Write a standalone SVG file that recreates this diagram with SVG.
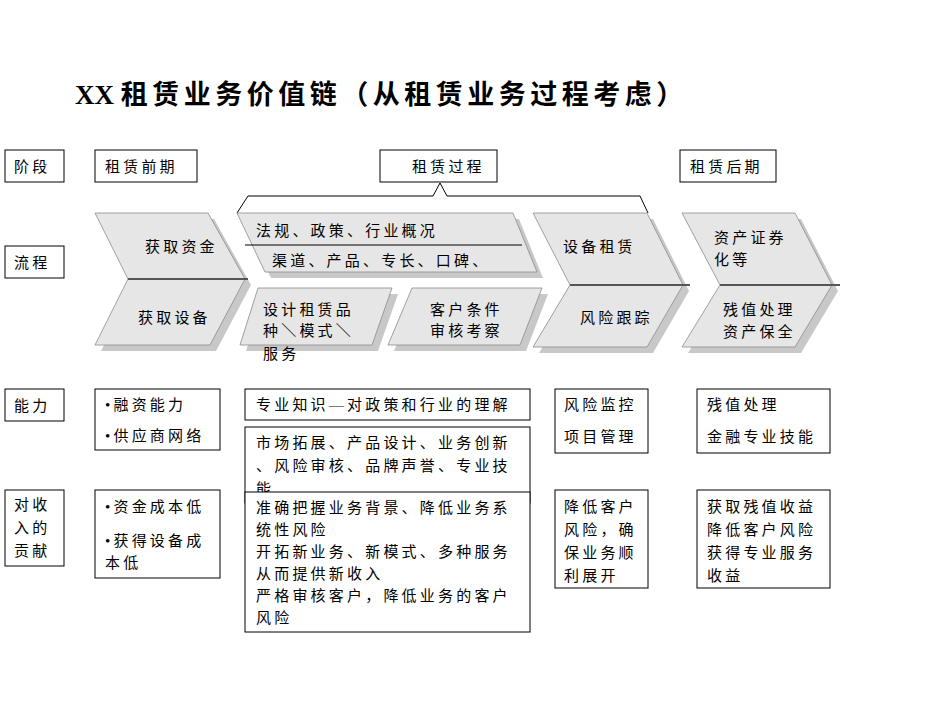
<svg xmlns="http://www.w3.org/2000/svg" width="950" height="713" viewBox="0 0 950 713">
<style>
text{font-family:"Liberation Serif","Noto Sans CJK SC",serif;font-size:15px;fill:#000;letter-spacing:3.2px}
.t{font-size:27px;font-weight:bold;letter-spacing:4.5px}
.box{fill:#fff;stroke:#000;stroke-width:1}
.sh{fill:#c8c8c8}
.sp{fill:#e6e6e6;stroke:#8c8c8c;stroke-width:0.8}
.ln{stroke:#555;stroke-width:2}
</style>
<rect width="950" height="713" fill="#fff"/>
<text class="t" x="75" y="104"><tspan style="letter-spacing:0">XX </tspan>租赁业务价值链（从租赁业务过程考虑）</text>

<g id="labels">
<rect class="box" x="5" y="150" width="59" height="32"/><text x="14" y="172">阶段</text>
<rect class="box" x="5" y="246" width="59" height="32"/><text x="14" y="268">流程</text>
<rect class="box" x="5" y="389" width="59" height="32"/><text x="14" y="411">能力</text>
<rect class="box" x="5" y="490" width="59" height="76"/>
<text x="14" y="510">对收</text><text x="14" y="533">入的</text><text x="14" y="556">贡献</text>
</g>

<g id="stages">
<rect class="box" x="95" y="150" width="102" height="32"/><text x="105" y="172">租赁前期</text>
<rect class="box" x="380" y="150" width="117" height="32"/><text x="412" y="172">租赁过程</text>
<rect class="box" x="680" y="150" width="96" height="32"/><text x="690" y="172">租赁后期</text>
</g>

<g id="connectors">
<path d="M237,213 L248,196 L433,196 L440,183 L447,196 L640,196 L648,213" fill="none" stroke="#000" stroke-width="1"/>
</g>

<g id="chev1">
<path class="sh" d="M101,219 L214,219 L251,285 L216,351 L101,351 L134,285 Z"/>
<path class="sp" d="M95,213 L208,213 L245,279 L210,345 L95,345 L128,279 Z"/>
<line class="ln" x1="128" y1="279" x2="248" y2="279"/>
<text x="145" y="252">获取资金</text>
<text x="138" y="323">获取设备</text>
</g>

<g id="proc1">
<path class="sh" d="M243,219 L519,219 L543,278 L271,278 Z"/>
<path class="sp" d="M237,213 L513,213 L537,272 L265,272 Z"/>
<line x1="245" y1="245" x2="522" y2="245" stroke="#000" stroke-width="1"/>
<text x="256" y="236">法规、政策、行业概况</text>
<text x="272" y="266">渠道、产品、专长、口碑、</text>
</g>

<g id="proc2">
<path class="sh" d="M264,294 L398,294 L378,351 L246,351 Z"/>
<path class="sp" d="M258,288 L392,288 L372,345 L240,345 Z"/>
<text x="263" y="315">设计租赁品</text>
<text x="263" y="336">种＼模式＼</text>
<text x="263" y="359">服务</text>
</g>

<g id="proc3">
<path class="sh" d="M418,294 L548,294 L526,351 L394,351 Z"/>
<path class="sp" d="M412,288 L542,288 L520,345 L388,345 Z"/>
<text x="430" y="315">客户条件</text>
<text x="430" y="336">审核考察</text>
</g>

<g id="chev3">
<path class="sh" d="M539,219 L653,219 L689,291 L653,353 L539,353 L576,291 Z"/>
<path class="sp" d="M533,213 L647,213 L683,285 L647,347 L533,347 L570,285 Z"/>
<line class="ln" x1="570" y1="285" x2="690" y2="285"/>
<text x="563" y="252">设备租赁</text>
<text x="580" y="323">风险跟踪</text>
</g>

<g id="chev4">
<path class="sh" d="M688,219 L801,219 L838,291 L801,353 L688,353 L726,291 Z"/>
<path class="sp" d="M682,213 L795,213 L832,285 L795,347 L682,347 L720,285 Z"/>
<line class="ln" x1="720" y1="285" x2="840" y2="285"/>
<text x="714" y="243">资产证券</text>
<text x="714" y="265">化等</text>
<text x="723" y="315">残值处理</text>
<text x="723" y="337">资产保全</text>
</g>

<g id="abil">
<rect class="box" x="95" y="389" width="125" height="61"/>
<text x="105" y="410">•融资能力</text><text x="105" y="441">•供应商网络</text>
<rect class="box" x="245" y="389" width="285" height="31"/>
<text x="256" y="410">专业知识—对政策和行业的理解</text>
<rect class="box" x="245" y="427" width="285" height="76"/>
<text x="256" y="448">市场拓展、产品设计、业务创新</text>
<text x="256" y="471">、风险审核、品牌声誉、专业技</text>
<text x="256" y="494">能</text>
<rect class="box" x="555" y="389" width="93" height="64"/>
<text x="564" y="410">风险监控</text><text x="564" y="442">项目管理</text>
<rect class="box" x="697" y="389" width="133" height="64"/>
<text x="707" y="410">残值处理</text><text x="707" y="442">金融专业技能</text>
</g>

<g id="contrib">
<rect class="box" x="95" y="490" width="125" height="88"/>
<text x="105" y="512">•资金成本低</text><text x="105" y="546">•获得设备成</text><text x="105" y="568">本低</text>
<rect class="box" x="245" y="492" width="285" height="140" fill="none"/>
<text x="256" y="513">准确把握业务背景、降低业务系</text>
<text x="256" y="535">统性风险</text>
<text x="256" y="557">开拓新业务、新模式、多种服务</text>
<text x="256" y="579">从而提供新收入</text>
<text x="256" y="601">严格审核客户，降低业务的客户</text>
<text x="256" y="623">风险</text>
<rect class="box" x="555" y="490" width="93" height="98"/>
<text x="564" y="512">降低客户</text><text x="564" y="535">风险，确</text><text x="564" y="558">保业务顺</text><text x="564" y="581">利展开</text>
<rect class="box" x="697" y="490" width="133" height="98"/>
<text x="707" y="512">获取残值收益</text><text x="707" y="535">降低客户风险</text><text x="707" y="558">获得专业服务</text><text x="707" y="581">收益</text>
</g>
</svg>
